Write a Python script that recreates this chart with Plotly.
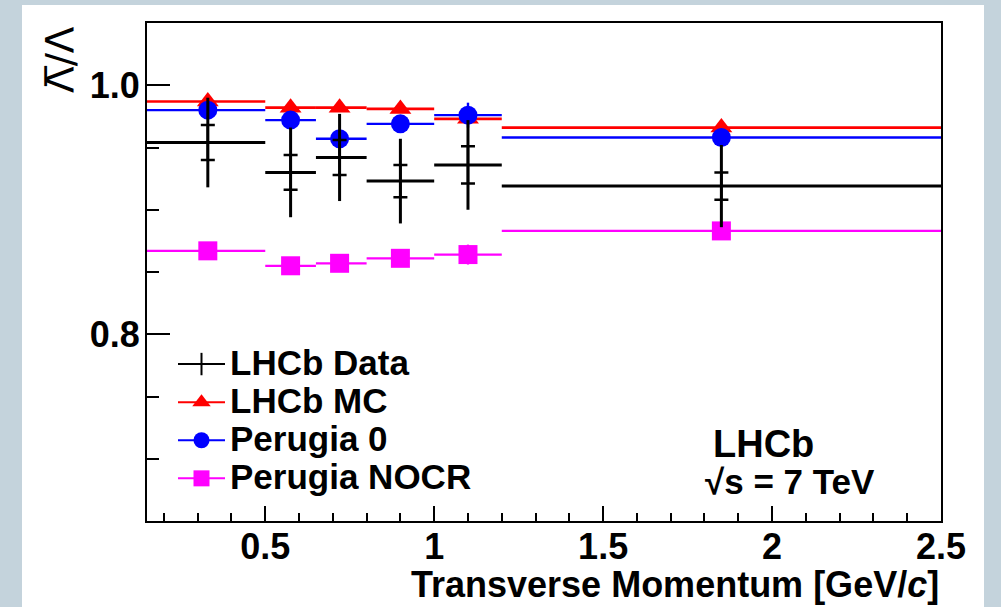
import plotly.graph_objects as go

# ---------------- data ----------------
bin_edges = [0.15, 0.5, 0.65, 0.8, 1.0, 1.2, 2.5]
pt_centers = [0.33, 0.575, 0.72, 0.90, 1.10, 1.85]

data_vals = [0.954, 0.930, 0.942, 0.923, 0.936, 0.919]
data_stat = [0.014, 0.014, 0.014, 0.013, 0.015, 0.011]
data_tot = [0.036, 0.036, 0.035, 0.034, 0.036, 0.033]

mc_vals = [0.987, 0.982, 0.982, 0.981, 0.973, 0.966]
mc_err = [0.003, 0.003, 0.003, 0.003, 0.003, 0.003]

p0_vals = [0.980, 0.972, 0.957, 0.969, 0.976, 0.958]
p0_err = [0.005, 0.005, 0.004, 0.005, 0.010, 0.006]

nocr_vals = [0.867, 0.855, 0.857, 0.861, 0.864, 0.883]
nocr_err = [0.004, 0.004, 0.004, 0.004, 0.008, 0.004]

series_names = ["LHCb Data", "LHCb MC", "Perugia 0", "Perugia NOCR"]

# ---------------- geometry ----------------
W, H = 1001, 607
ML, MR, MT, MB = 147, 60, 23, 86
PW, PH = W - ML - MR, H - MT - MB


def px(x):
    return (x - ML) / PW


def py(y):
    return (H - MB - y) / PH


lo_edges = bin_edges[:-1]
hi_edges = bin_edges[1:]
ex_plus = [h - c for h, c in zip(hi_edges, pt_centers)]
ex_minus = [c - l for l, c in zip(lo_edges, pt_centers)]

FONT = "Liberation Sans, Arial, Helvetica, sans-serif"
RED, BLUE, MAG = "#ff0000", "#0000ff", "#ff00ff"

fig = go.Figure()


def binned(vals, errs, color, symbol, size, lw, name):
    return go.Scatter(
        x=pt_centers, y=vals, mode="markers", name=name, showlegend=False,
        marker=dict(symbol=symbol, size=size, color=color, line=dict(width=0)),
        error_x=dict(type="data", symmetric=False, array=ex_plus, arrayminus=ex_minus,
                     color=color, thickness=lw, width=0),
        error_y=dict(type="data", array=errs, color=color, thickness=lw, width=0),
    )


fig.add_trace(binned(mc_vals, mc_err, RED, "triangle-up", 19, 2.6, series_names[1]))
fig.add_trace(binned(p0_vals, p0_err, BLUE, "circle", 19, 2.4, series_names[2]))
fig.add_trace(binned(nocr_vals, nocr_err, MAG, "square", 19, 2.2, series_names[3]))

# data: total error bar + bin width
fig.add_trace(go.Scatter(
    x=pt_centers, y=data_vals, mode="markers", showlegend=False,
    marker=dict(size=1, color="black"),
    error_x=dict(type="data", symmetric=False, array=ex_plus, arrayminus=ex_minus,
                 color="black", thickness=3, width=0),
    error_y=dict(type="data", array=data_tot, color="black", thickness=3, width=0),
))
# data: statistical error ticks
fig.add_trace(go.Scatter(
    x=pt_centers, y=data_vals, mode="markers", showlegend=False,
    marker=dict(size=1, color="black"),
    error_y=dict(type="data", array=data_stat, color="black", thickness=2.5, width=7),
))

# legend entries
leg_styles = [
    ("black", "line-ns", 20, 2),
    (RED, "triangle-up", 18, 0),
    (BLUE, "circle", 18, 0),
    (MAG, "square", 18, 0),
]
for name, (col, sym, sz, mlw) in zip(series_names, leg_styles):
    fig.add_trace(go.Scatter(
        x=[None], y=[None], mode="lines+markers",
        name=f'<span style="font-size:35px">{name}</span>',
        line=dict(color=col, width=2),
        marker=dict(symbol=sym, size=sz, color=col, line=dict(width=mlw, color=col)),
    ))

axis_common = dict(
    showgrid=False, zeroline=False, showline=True, linecolor="black", linewidth=2,
    mirror=True, ticks="inside", tickcolor="black", tickwidth=2,
    tickfont=dict(family=FONT, size=36, color="black", weight="bold"),
)

fig.update_xaxes(
    range=[bin_edges[0], bin_edges[-1]], tickmode="linear", tick0=0, dtick=0.5,
    ticklen=15, ticklabelstandoff=-7,
    minor=dict(tickmode="linear", tick0=0, dtick=0.1, ticklen=8, tickwidth=1.5,
               ticks="inside", tickcolor="black", showgrid=False),
    **axis_common,
)
fig.update_yaxes(
    range=[0.65, 1.05], tickmode="linear", tick0=0, dtick=0.2, tickformat=".1f",
    ticklen=23, ticklabelstandoff=-2,
    minor=dict(tickmode="linear", tick0=0, dtick=0.05, ticklen=12, tickwidth=1.5,
               ticks="inside", tickcolor="black", showgrid=False),
    **axis_common,
)

fig.update_layout(
    width=W, height=H,
    margin=dict(l=ML, r=MR, t=MT, b=MB, pad=0),
    paper_bgcolor="#c4d3dc",
    plot_bgcolor="white",
    showlegend=True,
    legend=dict(
        x=px(173), y=py(340), xanchor="left", yanchor="top",
        bgcolor="rgba(0,0,0,0)", borderwidth=0, itemwidth=47,
        font=dict(family=FONT, size=27, color="black", weight="bold"),
        tracegroupgap=0,
    ),
    shapes=[
        dict(type="rect", xref="paper", yref="paper", layer="below",
             x0=px(22), x1=px(984), y0=py(607), y1=py(5),
             fillcolor="white", line=dict(width=0)),
    ],
    annotations=[
        dict(text="<b>Transverse Momentum [GeV/<i>c</i>]</b>", xref="paper", yref="paper",
             x=px(941), y=py(584), xanchor="right", yanchor="middle", showarrow=False,
             font=dict(family=FONT, size=36, color="black")),
        dict(text="\u039b\u0305/\u039b", xref="paper", yref="paper", textangle=-90,
             x=px(60), y=py(60), xanchor="center", yanchor="middle", showarrow=False,
             font=dict(family="DejaVu Sans, " + FONT, size=39, color="black")),
        dict(text="<b>LHCb</b>", xref="paper", yref="paper",
             x=px(711), y=py(444), xanchor="left", yanchor="middle", showarrow=False,
             font=dict(family=FONT, size=38, color="black")),
        dict(text="<b>\u221as = 7 TeV</b>", xref="paper", yref="paper",
             x=px(703), y=py(481), xanchor="left", yanchor="middle", showarrow=False,
             font=dict(family=FONT, size=35, color="black")),
    ],
)

fig.write_html("out.html")
